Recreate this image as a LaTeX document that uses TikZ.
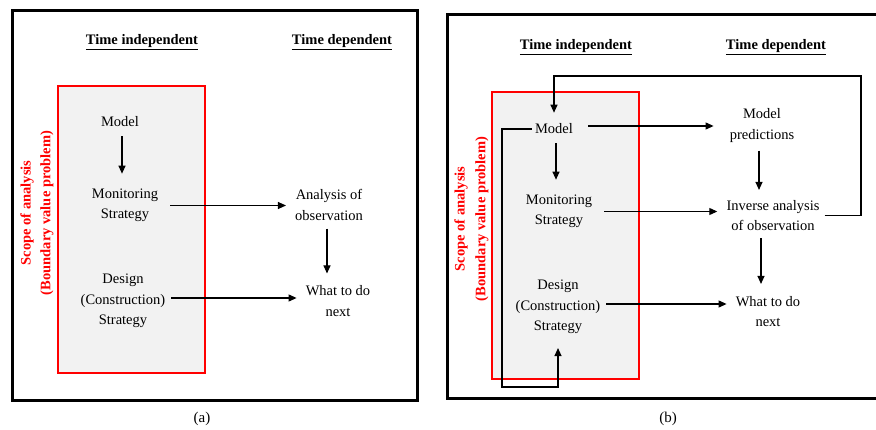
\documentclass[tikz,border=0pt]{standalone}
\usepackage{fontspec}
\setmainfont{Liberation Serif}
\usetikzlibrary{arrows.meta}
\begin{document}
\begin{tikzpicture}[x=1pt,y=-1pt,
  txt/.style={inner sep=0pt, align=center, font=\fontsize{14.5}{20.5}\selectfont},
  hdr/.style={inner sep=0pt, font=\fontsize{14.5}{17}\selectfont\bfseries},
  side/.style={inner sep=0pt, rotate=90, text=red, font=\fontsize{14.5}{17}\selectfont\bfseries},
  frame/.style={line width=3pt, black},
  scopebox/.style={draw=red, line width=1.1pt, fill=black!5},
  arr/.style={line width=1.1pt, -{Triangle[length=8pt,width=7pt]}},
  plain/.style={line width=1.1pt},
  captxt/.style={inner sep=0pt, font=\fontsize{15}{18}\selectfont}]
\useasboundingbox (0,0) rectangle (876,430);
% ---------- panel (a) ----------
\draw[frame] (12,11) rectangle (417,401);
\draw[scopebox] (58,86) rectangle (205,373);
\node[hdr] (ha1) at (142,42) {\underline{Time independent}};
\node[hdr] (ha2) at (342,42) {\underline{Time dependent}};
\node[side] (sa1) at (27,213) {Scope of analysis};
\node[side] (sa2) at (47,213) {(Boundary value problem)};
\node[txt] (ma) at (120,122) {Model};
\node[txt] (mona) at (125,205.5) {Monitoring\\Strategy};
\node[txt] (desa) at (123,301) {Design\\(Construction)\\Strategy};
\node[txt] (ana) at (329,205) {Analysis of\\observation};
\node[txt] (wha) at (338,301) {What to do\\next};
\node[captxt] (capa) at (202,419) {(a)};
\draw[arr, shorten <=9pt, shorten >=15pt] (ma.south -| 122,0) -- (mona.north -| 122,0);
\draw[arr, shorten <=12pt, shorten >=9pt] (mona.east) -- (mona.east -| ana.west);
\draw[arr, shorten <=8pt, shorten >=12pt] (ana.south -| 327,0) -- (wha.north -| 327,0);
\draw[arr, shorten <=6pt, shorten >=9pt] ([yshift=3pt]desa.east) -- ([yshift=3pt]desa.east -| wha.west);
% ---------- panel (b) ----------
\draw[frame] (878,15) -- (447,15) -- (447,399) -- (878,399);
\draw[scopebox] (492,92) rectangle (639,379);
\node[hdr] (hb1) at (576,47) {\underline{Time independent}};
\node[hdr] (hb2) at (776,47) {\underline{Time dependent}};
\node[side] (sb1) at (461,219) {Scope of analysis};
\node[side] (sb2) at (482,219) {(Boundary value problem)};
\node[txt] (mb) at (554,129) {Model};
\node[txt] (monb) at (559,211.5) {Monitoring\\Strategy};
\node[txt] (desb) at (558,307) {Design\\(Construction)\\Strategy};
\node[txt] (mp) at (762,125.5) {Model\\predictions};
\node[txt] (inv) at (773,215.5) {Inverse analysis\\of observation};
\node[txt] (whb) at (768,311.5) {What to do\\next};
\node[captxt] (capb) at (668,419) {(b)};
\coordinate (fb) at (861,76);
\coordinate (lp) at (502,387);
\draw[arr, shorten <=9pt, shorten >=15pt] (mb.south -| 556,0) -- (monb.north -| 556,0);
\draw[arr, shorten <=8pt, shorten >=10pt] (mp.south -| 759,0) -- (inv.north -| 759,0);
\draw[arr, shorten <=7pt, shorten >=12pt] (inv.south -| 761,0) -- (whb.north -| 761,0);
\draw[arr, shorten <=15pt, shorten >=16pt] ([yshift=3pt]mb.east) -- ([yshift=3pt]mb.east -| mp.west);
\draw[arr, shorten <=12pt, shorten >=9pt] (monb.east) -- (monb.east -| inv.west);
\draw[arr, shorten <=6pt, shorten >=9pt] ([yshift=3pt]desb.east) -- ([yshift=3pt]desb.east -| whb.west);
\draw[arr, shorten <=5pt, shorten >=11pt] (inv.east) -| (fb) -| (mb.north);
\draw[arr, shorten <=3pt, shorten >=14pt] (mb.west) -| (lp) -| (desb.south);
\end{tikzpicture}
\end{document}
